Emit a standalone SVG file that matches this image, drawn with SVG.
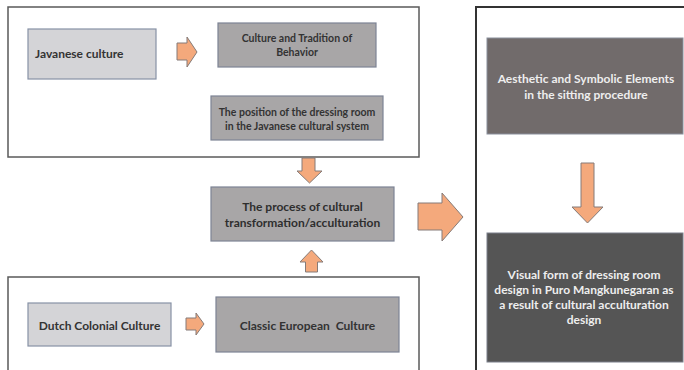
<svg xmlns="http://www.w3.org/2000/svg" width="684" height="370" viewBox="0 0 684 370">
<style>
.frame{fill:#ffffff;stroke:#5a5a5a;stroke-width:1.5}
.frame2{fill:#ffffff;stroke:#333333;stroke-width:2}
.light{fill:#d4d4d7;stroke:#8792a6;stroke-width:1.2}
.mid{fill:#a8a6a7;stroke:#7d8494;stroke-width:1.2}
.dark1{fill:#716b6b;stroke:#8a8f9c;stroke-width:1}
.dark2{fill:#555555;stroke:#7a7f8a;stroke-width:1}
.arrow{fill:#f4a97c;stroke:#857b78;stroke-width:1}
text{font-family:Lato,"Open Sans","DejaVu Sans",sans-serif;font-weight:bold}
.t{fill:#333333;font-size:12px}
.tc{fill:#333333;font-size:12px;text-anchor:middle}
.tm{fill:#2e2e2e;font-size:12px;text-anchor:middle}
.ts{fill:#333333;font-size:10.5px;text-anchor:middle}
.tw{fill:#eeeeee;font-size:12px;text-anchor:middle}
</style>
<rect width="684" height="370" fill="#ffffff"/>
<g id="containers">
<rect class="frame" x="8" y="7" width="411" height="150"/>
<rect class="frame" x="8" y="277" width="411" height="110"/>
<rect class="frame2" x="476" y="7" width="230" height="390"/>
</g>
<g id="javanese">
<rect class="light" x="28" y="29" width="128" height="50"/>
<text class="t" x="35" y="58">Javanese culture</text>
</g>
<g id="tradition">
<rect class="mid" x="218" y="23" width="158" height="44"/>
<text class="ts" x="297" y="42">Culture and Tradition of</text>
<text class="ts" x="297" y="56">Behavior</text>
</g>
<g id="position">
<rect class="mid" x="211" y="96" width="172" height="44"/>
<text class="ts" x="297" y="116">The position of the dressing room</text>
<text class="ts" x="297" y="130">in the Javanese cultural system</text>
</g>
<g id="process">
<rect class="mid" x="211" y="187" width="183" height="54"/>
<text class="tm" x="302.5" y="211">The process of cultural</text>
<text class="tm" x="302.5" y="227">transformation/acculturation</text>
</g>
<g id="dutch">
<rect class="light" x="28" y="303" width="143" height="43"/>
<text class="tc" x="99.5" y="330">Dutch Colonial Culture</text>
</g>
<g id="classic">
<rect class="mid" x="216" y="297" width="183" height="55"/>
<text class="tc" x="307.5" y="330" xml:space="preserve">Classic European  Culture</text>
</g>
<g id="aesthetic">
<rect class="dark1" x="487" y="38" width="196" height="96"/>
<text class="tw" x="586" y="83">Aesthetic and Symbolic Elements</text>
<text class="tw" x="586" y="99">in the sitting procedure</text>
</g>
<g id="visual">
<rect class="dark2" x="487" y="233" width="196" height="129"/>
<text class="tw" x="584" y="279">Visual form of dressing room</text>
<text class="tw" x="584" y="294">design in Puro Mangkunegaran as</text>
<text class="tw" x="584" y="309">a result of cultural acculturation</text>
<text class="tw" x="584" y="324">design</text>
</g>
<g id="connectors">
<polygon class="arrow" points="177,43 187,43 187,37 197,52 187,67 187,60 177,60"/>
<polygon class="arrow" points="302,158 315,158 315,171 322,171 309.5,183 297,171 302,171"/>
<polygon class="arrow" points="305.5,272 317.5,272 317.5,262 323,262 311.5,250 300,262 305.5,262"/>
<polygon class="arrow" points="186,318 196,318 196,313 204,324 196,335 196,330 186,330"/>
<polygon class="arrow" points="418,203 442,203 442,193 463,217 442,241 442,230 418,230"/>
<polygon class="arrow" points="581,163 594,163 594,207 603,207 587.5,223 572,207 581,207"/>
</g>
</svg>
